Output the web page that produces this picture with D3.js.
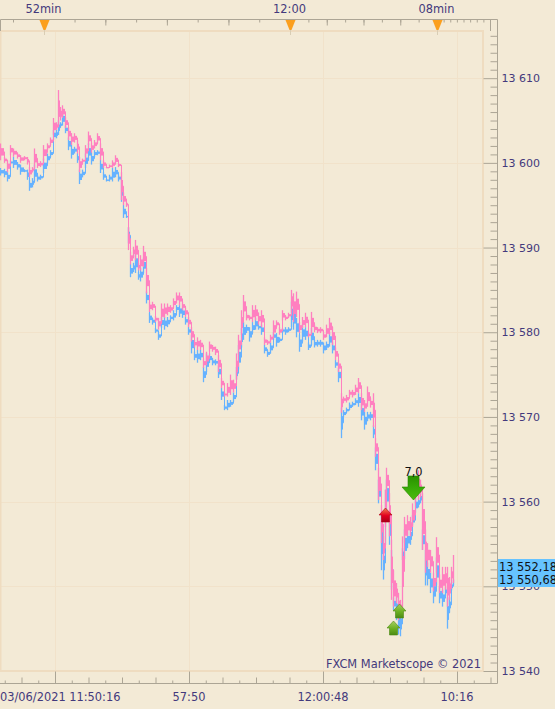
<!DOCTYPE html>
<html><head><meta charset="utf-8">
<style>
html,body{margin:0;padding:0;background:#f3ead6;overflow:hidden}
svg{display:block}
text{font-family:"DejaVu Sans",sans-serif;font-size:11.4px;fill:#43397c}
</style>
<script src="https://cdn.jsdelivr.net/npm/d3@7/dist/d3.min.js"></script>
</head><body><svg id="c" width="555" height="709"></svg>
<script>
const sampleBars=[0,4,7,10,13,17,20,24,27,29,32,34,37,40,43,47,50,53,56,58,60,62,65,68,71,74,77,79,82,85,88,91,94,97,100,103,106,109,112,115,118,121,123,126,128,130,133,135,138,140,143,146,149,152,155,158,161,164,167,170,173,176,179,182,185,188,191,194,197,200,203,206,209,212,215,218,221,224,227,230,233,236,238,241,243,246,249,252,255,258,261,264,267,270,273,276,279,282,285,288,291,293,296,299,302,305,308,311,314,317,320,323,326,329,332,335,338,341,343,346,349,352,355,358,361,364,367,370,373,375,378,381,383,385,386,389,391,393,396,398,400,402,404,407,410,412,415,418,420,422,425,427,430,433,436,439,442,445,447,449,451,453];
const pinkHigh=[13602.3,13600.7,13600.3,13602.1,13601.7,13601.2,13600.9,13600.8,13600.7,13599.5,13599.5,13601.7,13600.2,13600.2,13602.1,13602.3,13603.0,13605.3,13604.8,13608.6,13606.6,13606.8,13605.4,13604.2,13603.5,13603.5,13602.7,13600.7,13600.5,13602.1,13603.7,13602.4,13602.7,13603.5,13602.3,13600.3,13599.5,13599.8,13600.3,13600.9,13600.0,13598.9,13596.5,13595.4,13592.4,13589.5,13590.1,13590.9,13588.2,13589.1,13590.2,13587.6,13583.6,13583.6,13581.9,13581.7,13583.4,13583.4,13583.4,13583.2,13584.0,13584.7,13584.7,13583.6,13582.9,13581.8,13580.6,13579.1,13579.4,13579.1,13576.9,13577.7,13578.9,13578.5,13578.3,13577.3,13574.6,13572.9,13574.0,13575.0,13574.4,13577.5,13579.7,13582.6,13584.4,13582.3,13582.0,13583.2,13583.2,13582.3,13582.6,13579.4,13579.1,13579.7,13581.4,13581.4,13580.6,13582.6,13582.0,13582.3,13585.0,13584.6,13584.8,13581.2,13581.8,13582.3,13580.0,13582.4,13580.9,13580.6,13580.6,13580.0,13580.9,13581.7,13580.6,13578.2,13576.7,13572.8,13572.4,13572.6,13573.2,13573.2,13573.8,13574.6,13572.8,13572.0,13573.6,13572.2,13572.8,13567.5,13564.0,13559.6,13555.9,13561.4,13564.0,13561.0,13555.5,13551.9,13550.4,13549.2,13548.4,13555.9,13558.2,13558.4,13558.2,13559.8,13562.8,13563.7,13562.6,13561.0,13556.7,13555.1,13554.3,13551.6,13555.8,13551.4,13552.3,13552.3,13552.3,13551.1,13552.3,13553.7];
const pinkLow=[13600.3,13600.0,13598.9,13600.9,13600.7,13600.5,13600.0,13600.3,13599.8,13598.3,13598.9,13599.4,13599.4,13599.5,13600.3,13601.5,13602.1,13603.3,13603.9,13604.2,13605.0,13605.3,13604.1,13602.7,13602.1,13602.4,13601.1,13598.9,13600.0,13600.7,13602.1,13601.2,13601.7,13602.3,13600.3,13599.4,13599.4,13599.4,13599.4,13599.8,13599.5,13595.6,13595.0,13594.8,13589.7,13588.0,13588.9,13588.5,13587.3,13587.3,13587.7,13584.6,13582.4,13582.6,13581.2,13580.3,13581.2,13581.7,13582.0,13582.3,13582.9,13583.4,13583.2,13582.6,13581.8,13580.6,13578.9,13578.2,13577.9,13577.9,13575.8,13576.1,13577.7,13577.7,13577.3,13575.3,13573.4,13572.4,13572.4,13572.6,13572.9,13574.4,13577.3,13579.7,13581.7,13581.4,13581.4,13581.2,13581.4,13580.9,13580.6,13578.5,13578.5,13578.9,13579.4,13580.6,13579.7,13581.4,13581.4,13581.7,13582.3,13581.2,13581.8,13579.9,13580.5,13580.6,13579.4,13579.9,13580.0,13579.9,13579.9,13579.1,13579.4,13579.7,13578.5,13576.7,13575.3,13570.5,13571.7,13571.7,13572.4,13572.3,13572.6,13572.8,13570.8,13570.6,13571.2,13571.1,13568.8,13565.3,13560.2,13555.1,13553.1,13557.0,13561.0,13555.9,13548.4,13547.6,13548.0,13546.0,13546.4,13547.6,13555.1,13555.9,13555.9,13557.0,13559.8,13560.2,13560.5,13554.3,13551.6,13552.3,13551.6,13549.4,13551.6,13549.2,13549.2,13549.6,13547.6,13548.4,13550.4,13550.4];
const blueHigh=[13599.4,13599.3,13598.9,13600.3,13600.7,13600.1,13599.8,13599.2,13599.2,13598.0,13598.2,13599.8,13598.6,13598.6,13600.5,13601.1,13601.5,13603.9,13603.9,13605.0,13604.8,13606.0,13604.4,13603.0,13602.1,13601.9,13601.1,13599.2,13599.2,13601.1,13602.3,13601.2,13601.5,13601.5,13600.3,13598.9,13598.1,13598.6,13599.4,13599.5,13598.6,13598.0,13595.0,13593.8,13592.4,13588.0,13588.2,13589.4,13587.1,13587.6,13588.8,13584.8,13582.3,13581.7,13580.5,13580.0,13581.8,13581.8,13581.8,13582.0,13582.6,13583.2,13583.2,13582.9,13581.8,13580.6,13579.7,13577.7,13577.9,13577.9,13575.9,13577.5,13577.5,13576.9,13576.8,13576.1,13573.4,13571.4,13572.0,13572.0,13572.9,13575.9,13578.5,13580.5,13581.2,13580.9,13580.6,13581.2,13581.7,13580.9,13580.9,13578.5,13577.9,13578.8,13580.0,13579.9,13579.4,13580.5,13580.6,13580.6,13583.6,13582.9,13581.7,13579.7,13580.9,13580.6,13578.8,13580.5,13579.1,13579.1,13579.1,13578.8,13578.9,13580.0,13578.8,13576.7,13575.8,13571.1,13570.8,13571.1,13571.7,13571.8,13572.2,13572.8,13571.6,13570.6,13570.6,13570.6,13569.0,13566.4,13562.6,13558.7,13554.7,13561.4,13562.6,13558.7,13554.3,13548.7,13548.7,13547.6,13547.0,13554.5,13556.7,13556.5,13557.0,13558.4,13560.5,13560.5,13561.0,13556.7,13554.3,13552.8,13551.6,13550.8,13553.4,13550.0,13549.6,13549.9,13548.7,13548.7,13550.5,13550.8];
const blueLow=[13598.5,13598.3,13597.8,13599.8,13599.4,13599.2,13598.6,13598.9,13598.0,13596.7,13597.1,13597.8,13597.8,13598.0,13598.8,13600.0,13600.7,13602.7,13602.9,13603.3,13604.2,13604.4,13603.5,13601.5,13600.5,13601.1,13600.0,13597.5,13598.3,13599.4,13600.3,13599.8,13600.7,13600.9,13598.8,13598.0,13597.8,13597.8,13597.8,13598.3,13597.8,13595.4,13593.5,13593.5,13590.5,13586.5,13587.1,13587.0,13586.2,13586.0,13587.0,13583.4,13581.1,13580.9,13579.9,13579.1,13580.5,13580.3,13580.6,13581.4,13581.4,13582.4,13581.8,13581.7,13580.9,13579.7,13577.5,13576.7,13576.4,13576.7,13574.1,13575.3,13576.4,13576.1,13576.1,13574.6,13572.0,13570.8,13570.8,13571.2,13571.8,13574.4,13575.6,13578.2,13579.1,13579.9,13578.9,13579.9,13580.3,13580.3,13579.7,13577.5,13577.1,13577.5,13579.1,13578.3,13578.8,13579.9,13579.7,13580.0,13580.6,13580.3,13579.4,13577.7,13578.9,13579.1,13577.9,13578.5,13578.2,13578.3,13578.3,13577.5,13577.9,13578.3,13577.5,13575.8,13574.1,13567.5,13570.0,13570.5,13570.8,13571.2,13571.4,13571.2,13569.6,13568.5,13569.5,13569.6,13567.5,13563.7,13559.8,13551.9,13550.8,13554.9,13559.0,13554.9,13549.6,13547.2,13546.0,13544.3,13544.1,13553.1,13553.2,13554.5,13554.9,13557.2,13558.7,13559.3,13559.8,13554.3,13550.1,13550.1,13549.2,13548.0,13550.1,13548.0,13547.6,13548.9,13545.0,13546.9,13549.5,13550.1];

const priceMajor=[13610,13600,13590,13580,13570,13560,13550,13540];
const priceMinor=d3.range(13541,13616).filter(v=>v%10!==0);
const bottomLabels=["03/06/2021 11:50:16","57:50","12:00:48","10:16"];
const bottomMajorBars=[55,189,323,457];
const bottomLongBars=[21.5,88.5,122,155.5,222.5,256,289.5,356.5,390,423.5,490.5];
const bottomShortBars=[4.75,38.25,71.75,105.25,138.75,172.25,205.75,239.25,272.75,306.25,339.75,373.25,406.75,440.25,473.75];
const topMinutes=d3.range(-9,17);
const topLabels=[[-8,"52min"],[0,"12:00"],[8,"08min"]];
const tradeUp=[[385.5,13559.2,"red"],[399.5,13547.9,"olive"],[393.5,13545.9,"olive"]];
const tradeDown=[[413.5,13560.2,"7,0"]];
const lastPrices=["13 552,18","13 550,68"];
const watermark="FXCM Marketscope © 2021";

const svg=d3.select("#c");
const L=0,R=483,T=31,B=671,AX=497.5;
const x=d3.scaleLinear().domain([0,483]).range([L,R]);
const y=d3.scaleLinear().domain([13540,13615.57]).range([B,T]);
const topX=d3.scaleLinear().domain([-9,0,8,16]).range([13,290,437,490]);

const defs=svg.append("defs");
function grad(id,a,b,c){const g=defs.append("linearGradient").attr("id",id).attr("x1",0).attr("x2",0).attr("y1",0).attr("y2",1);
 g.append("stop").attr("offset","0%").attr("stop-color",a);g.append("stop").attr("offset","55%").attr("stop-color",b);g.append("stop").attr("offset","100%").attr("stop-color",c);}
grad("gRed","#f08050","#e2001f","#a80018");
grad("gOlive","#a8d060","#6caf22","#4c8a14");
grad("gGreen","#4cbb10","#36a806","#2a9000");

// grid
const grid=svg.append("g").attr("stroke","#f1e2ca").attr("stroke-width",1);
priceMajor.slice(0,7).forEach(v=>grid.append("line").attr("x1",L).attr("x2",R).attr("y1",Math.round(y(v))+.5).attr("y2",Math.round(y(v))+.5));
bottomMajorBars.forEach(v=>grid.append("line").attr("y1",T).attr("y2",B).attr("x1",Math.round(x(v))+.5).attr("x2",Math.round(x(v))+.5));
svg.append("rect").attr("x",L+.5).attr("y",T).attr("width",R-L-.5).attr("height",B-T).attr("fill","none").attr("stroke","#efdcc0").attr("stroke-width",2);

// series: a spike for each sample's full range, a solid core until the next sample, and a thin joining step
function drawSeries(hi,lo,color){
 const g=svg.append("g");
 const rows=sampleBars.map((b,i)=>({b,n:i<sampleBars.length-1?sampleBars[i+1]:b+1,hi:hi[i],lo:lo[i]}));
 const mid=d=>(d.hi+d.lo)/2;
 g.append("path").attr("d",d3.line().x(d=>Math.round(x(d.b))+.5).y(d=>y(mid(d))).curve(d3.curveStepAfter)(rows)).attr("fill","none").attr("stroke",color).attr("stroke-width",1);
 g.selectAll("rect").data(rows).join("rect")
  .attr("x",d=>Math.round(x(d.b))).attr("width",d=>Math.max(1,Math.round(x(d.n))-Math.round(x(d.b))))
  .attr("y",d=>y(d.hi-(d.hi-d.lo)*.28)).attr("height",d=>Math.max(1,y(d.lo+(d.hi-d.lo)*.28)-y(d.hi-(d.hi-d.lo)*.28))).attr("fill",color);
 g.selectAll("line").data(rows).join("line")
  .attr("x1",d=>Math.round(x(d.b))+.5).attr("x2",d=>Math.round(x(d.b))+.5)
  .attr("y1",d=>y(d.hi)).attr("y2",d=>y(d.lo)).attr("stroke",color).attr("stroke-width",1.3);
}
drawSeries(blueHigh,blueLow,"#66b2ff");
drawSeries(pinkHigh,pinkLow,"#ff80c0");

svg.append("text").attr("x",481).attr("y",668).attr("text-anchor","end").text(watermark);

// axes
function sty(g){g.select(".domain").remove();g.selectAll("line").attr("stroke","#aca595");}
const right=svg.append("g").attr("transform",`translate(${AX},0)`);
right.append("g").call(d3.axisLeft(y).tickValues(priceMinor).tickSize(7).tickFormat("")).call(sty);
right.append("g").call(d3.axisLeft(y).tickValues(priceMajor).tickSize(14).tickFormat("")).call(sty);
right.append("g").call(d3.axisRight(y).tickValues(priceMajor).tickSize(0).tickPadding(4).tickFormat(d=>d3.format("d")(d).replace(/^(\d\d)/,"$1 "))).call(g=>{g.select(".domain").remove();g.selectAll("text").attr("style","font-family:'DejaVu Sans';font-size:11px").attr("fill","#43397c");});
const bot=svg.append("g").attr("transform",`translate(0,683.5)`);
bot.append("g").call(d3.axisTop(x).tickValues(bottomShortBars).tickSize(3).tickFormat("")).call(sty);
bot.append("g").call(d3.axisTop(x).tickValues(bottomLongBars).tickSize(6).tickFormat("")).call(sty);
bot.append("g").call(d3.axisTop(x).tickValues(bottomMajorBars).tickSize(12).tickFormat("")).call(sty);
const tp=svg.append("g").attr("transform","translate(0,19.5)");
tp.append("g").call(d3.axisBottom(topX).tickValues(topMinutes).tickSize(3).tickFormat("")).call(sty);
tp.append("g").call(d3.axisBottom(topX).tickValues(topMinutes.filter(m=>m%2===0&&m<=8)).tickSize(6).tickFormat("")).call(sty);
const frame=svg.append("g").attr("stroke","#aca595").attr("fill","none");
frame.append("path").attr("d",`M.5,31V19.5H${AX}V683.5H0`);
frame.append("line").attr("x1",490.5).attr("x2",490.5).attr("y1",19.5).attr("y2",31);

// top markers
topLabels.forEach(([m,t])=>{const px=Math.round(topX(m))+.5;
 svg.append("line").attr("x1",px).attr("x2",px).attr("y1",28).attr("y2",35).attr("stroke","#d9cdb4");
 svg.append("path").attr("d",`M${px-5},20H${px+5}L${px+1},30H${px-1}Z`).attr("fill","#fb9f1d");
 svg.append("text").attr("x",px-1).attr("y",13).attr("text-anchor","middle").text(t);
});
// bottom labels
bottomLabels.forEach((t,i)=>{svg.append("text").attr("x",i===0?0:x(bottomMajorBars[i])).attr("y",701).attr("text-anchor",i===0?"start":"middle").text(t);});

// trades
const upShape=(w,h,sw,hh)=>`M0,0L${w/2},${hh}H${sw/2}V${h}H${-sw/2}V${hh}H${-w/2}Z`;
tradeUp.forEach(([b,p,k])=>{svg.append("path").attr("transform",`translate(${x(b)},${Math.round(y(p))})`)
 .attr("d",upShape(13,14,8,7)).attr("fill",k==="red"?"url(#gRed)":"url(#gOlive)").attr("stroke",k==="red"?"#b00018":"#4c8a14").attr("stroke-width",.6);});
tradeDown.forEach(([b,p,t])=>{const g=svg.append("g").attr("transform",`translate(${x(b)},${Math.round(y(p))})`);
 g.append("path").attr("transform","rotate(180)").attr("d",upShape(23,24,11,13)).attr("fill","url(#gGreen)").attr("stroke","#2a8c00").attr("stroke-width",.6);
 g.append("text").attr("y",-24.5).attr("text-anchor","middle").attr("style","fill:#111").text(t);});

// last price tag
svg.append("rect").attr("x",498).attr("y",559).attr("width",57).attr("height",28).attr("fill","#66c3ff");
lastPrices.forEach((t,i)=>svg.append("text").attr("x",499).attr("y",571+i*13).attr("style","fill:#111").text(t));
</script></body></html>
